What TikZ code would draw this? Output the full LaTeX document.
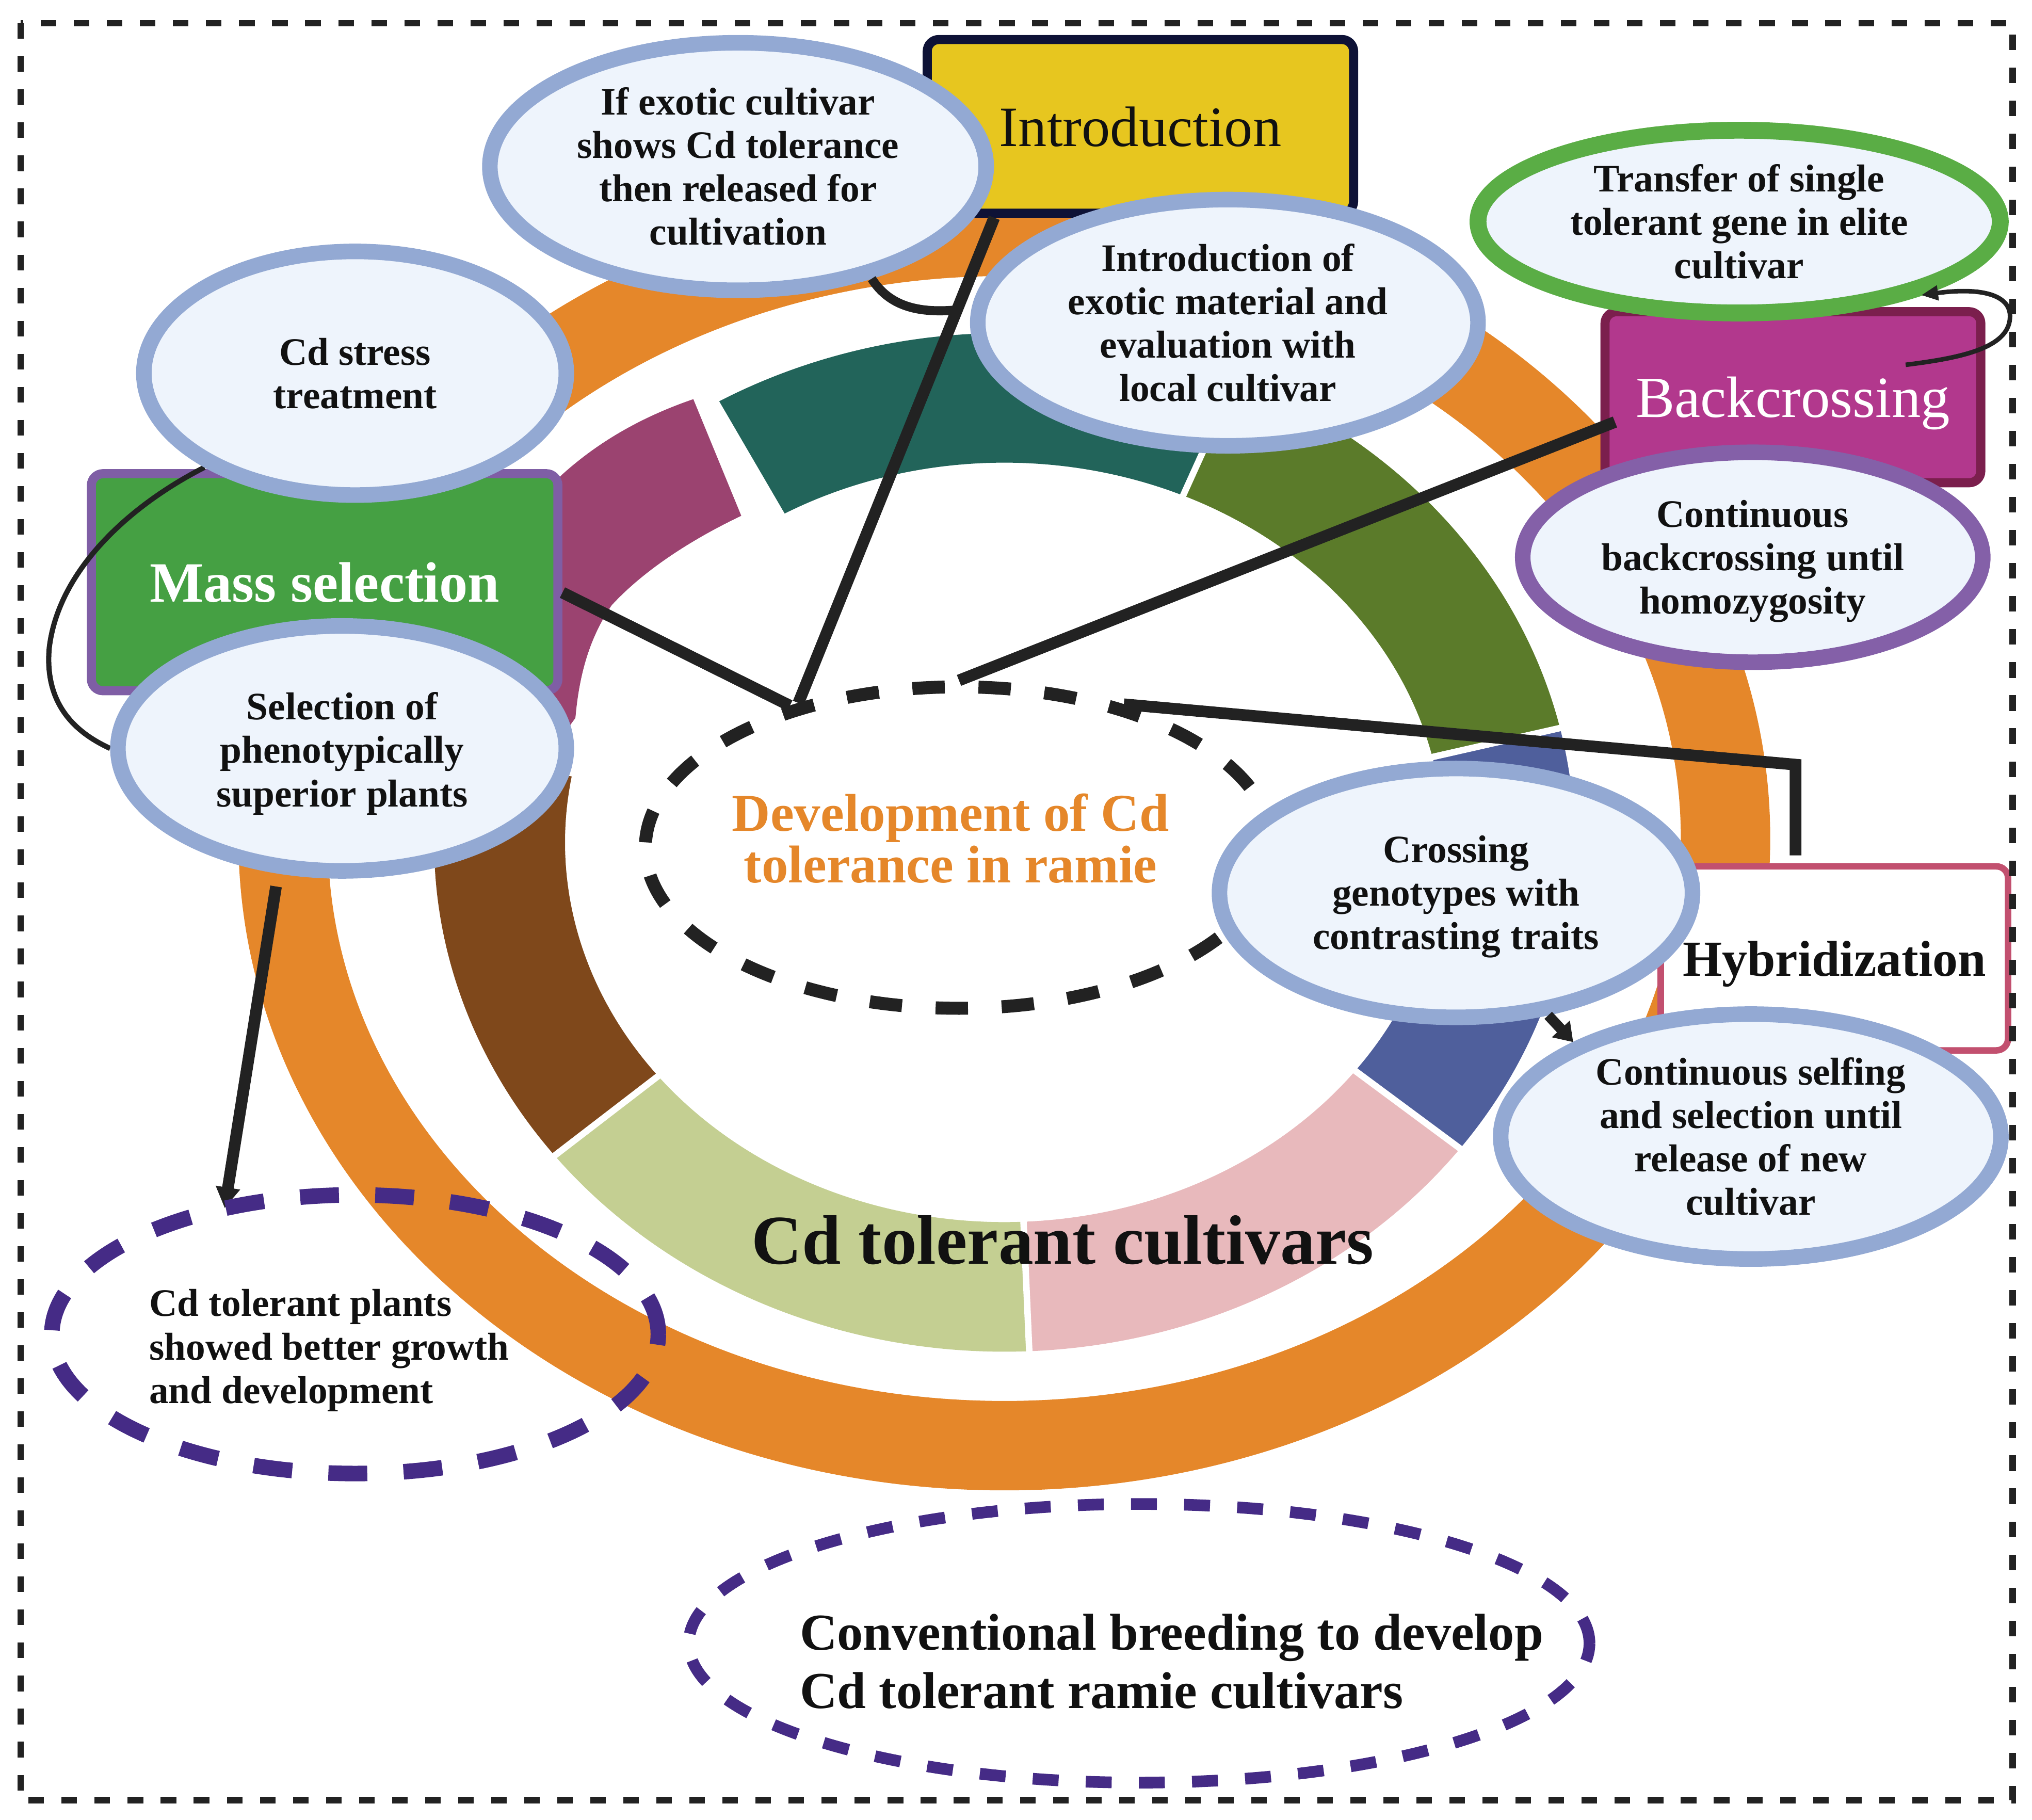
\documentclass[tikz,border=0pt]{standalone}
\usepackage{fontspec}
\setmainfont{Liberation Serif}
\usetikzlibrary{shapes.geometric,arrows.meta,calc}
\definecolor{ringO}{HTML}{E5872A}
\definecolor{segMaroon}{HTML}{9B4370}
\definecolor{segTeal}{HTML}{22645A}
\definecolor{segOlive}{HTML}{5B7B2A}
\definecolor{segBlue}{HTML}{4F5F9C}
\definecolor{segPink}{HTML}{E8B9BC}
\definecolor{segLGreen}{HTML}{C4CF92}
\definecolor{segBrown}{HTML}{7F481B}
\definecolor{bubB}{HTML}{93A9D3}
\definecolor{bubF}{HTML}{EEF4FC}
\definecolor{greenB}{HTML}{5AAD45}
\definecolor{purpleB}{HTML}{8460A8}
\definecolor{dpurple}{HTML}{452B86}
\definecolor{introF}{HTML}{E7C61F}
\definecolor{introB}{HTML}{0E1236}
\definecolor{backF}{HTML}{B2388D}
\definecolor{backB}{HTML}{7B1F4D}
\definecolor{massF}{HTML}{45A043}
\definecolor{massB}{HTML}{7F5EA5}
\definecolor{hybB}{HTML}{C2506F}
\definecolor{dark}{HTML}{222222}
\definecolor{txtK}{HTML}{111111}
\pgfdeclarelayer{bg}
\pgfdeclarelayer{lines}
\pgfdeclarelayer{front}
\pgfsetlayers{bg,lines,main,front}
\newcommand\ringseg[3]{\fill[#3] (#1:440 and 393) arc[start angle=#1, end angle=#2, x radius=440, y radius=393] -- (#2:339 and 293) arc[start angle=#2, end angle=#1, x radius=339, y radius=293] -- cycle;}
\newcommand\ringgap[2]{\draw[white, line width=#2] (#1:330 and 284) -- (#1:452 and 404);}
\begin{document}
\begin{tikzpicture}[x=1pt,y=-1pt,
  bubble/.style={ellipse, draw=bubB, fill=bubF, line width=12pt, inner sep=0pt},
  txt/.style={align=center, inner sep=0pt, text=txtK, font=\fontsize{30}{33.5}\selectfont\bfseries},
  boxs/.style={rectangle, rounded corners=9pt, line width=7pt, inner sep=0pt, text depth=0pt},
  conn/.style={draw=dark, line width=9pt},
  dashell/.style={ellipse, inner sep=0pt}]
\useasboundingbox (0,0) rectangle (1568,1404);

\begin{pgfonlayer}{bg}
  % orange ring
  \draw[ringO, line width=69pt] (775,647) ellipse [x radius=556.5, y radius=468.5];
  % maroon segment (wider arc on the upper left)
  \fill[segMaroon] (330,600) .. controls (345,480) and (395,405) .. (434,366) .. controls (465,338) and (500,320) .. (535,308) -- (572,398) .. controls (530,418) and (495,442) .. (472,467) .. controls (455,492) and (447,520) .. (444,554) -- (425,580) -- cycle;
  % other segments of the ring
  \begin{scope}[shift={(775,650)}]
    \ringseg{294}{347}{segOlive}
    \ringseg{347}{397}{segBlue}
    \ringseg{37}{87.5}{segPink}
    \ringseg{87.5}{142}{segLGreen}
    \ringseg{142}{190}{segBrown}
    \ringseg{240}{294}{segTeal}
    \ringgap{294}{5pt}
    \ringgap{347}{5pt}
    \ringgap{37}{5pt}
    \ringgap{87.5}{5pt}
    \ringgap{142}{5pt}
  \end{scope}
  \node[inner sep=0pt, text=txtK, font=\fontsize{54}{60}\selectfont\bfseries] (cult) at (820,957) {Cd tolerant cultivars};
  % boxes
  \node[boxs, draw=introB, fill=introF, minimum width=329pt, minimum height=134pt, text=txtK, font=\fontsize{44}{48}\selectfont] (intro) at (880,97.5) {Introduction};
  \node[boxs, draw=backB, fill=backF, minimum width=290pt, minimum height=132pt, text=white, font=\fontsize{45}{48}\selectfont] (back) at (1383.5,306.5) {Backcrossing};
  \node[boxs, draw=massB, fill=massF, minimum width=360pt, minimum height=167.5pt, text=white, font=\fontsize{44}{48}\selectfont\bfseries] (mass) at (250.5,449.25) {Mass selection};
  \node[boxs, draw=hybB, fill=white, line width=5pt, minimum width=268pt, minimum height=142pt, text=txtK, font=\fontsize{39}{44}\selectfont\bfseries] (hyb) at (1415.5,739.5) {Hybridization};
\end{pgfonlayer}

% central dashed ellipse
\node[dashell, draw=dark, line width=10pt, dash pattern=on 25pt off 26pt, minimum width=484pt, minimum height=248pt] (dev) at (740,654) {};
\node[align=center, inner sep=0pt, text=ringO, font=\fontsize{41}{40}\selectfont\bfseries] (devt) at (733.5,647) {Development of Cd\\tolerance in ramie};

% bubbles
\node[bubble, minimum width=383pt, minimum height=191pt] (exotic) at (569.5,128.5) {};
\node[txt] (exotict) at (exotic) {If exotic cultivar\\shows Cd tolerance\\then released for\\cultivation};
\node[bubble, minimum width=386pt, minimum height=190pt] (introof) at (947.5,249) {};
\node[txt] (introoft) at (introof) {Introduction of\\exotic material and\\evaluation with\\local cultivar};
\node[bubble, minimum width=326pt, minimum height=188pt] (stress) at (274,288) {};
\node[txt] (stresst) at (stress) {Cd stress\\treatment};
\node[bubble, minimum width=346pt, minimum height=189pt] (sel) at (264,577.5) {};
\node[txt] (selt) at ([yshift=-4pt]sel.center) {Selection of\\phenotypically\\superior plants};
\node[bubble, draw=greenB, line width=13pt, minimum width=403pt, minimum height=141pt] (trans) at (1342,171) {};
\node[txt] (transt) at (trans) {Transfer of single\\tolerant gene in elite\\cultivar};
\node[bubble, draw=purpleB, minimum width=355pt, minimum height=162pt] (cont) at (1352.5,430) {};
\node[txt] (contt) at ([yshift=-3pt]cont.center) {Continuous\\backcrossing until\\homozygosity};
\node[bubble, minimum width=365pt, minimum height=192pt] (cross) at (1123.5,689) {};
\node[txt] (crosst) at ([yshift=-3pt]cross.center) {Crossing\\genotypes with\\contrasting traits};
\node[bubble, minimum width=386pt, minimum height=189pt] (self) at (1351,877) {};
\node[txt] (selft) at (self) {Continuous selfing\\and selection until\\release of new\\cultivar};

% dashed purple ellipses
\node[dashell, draw=dpurple, line width=12pt, dash pattern=on 30pt off 28pt, minimum width=468pt, minimum height=215pt] (tol) at (274,1029.5) {};
\node[txt, align=left, anchor=west] (tolt) at (115,1042) {Cd tolerant plants\\showed better growth\\and development};
\node[dashell, draw=dpurple, line width=9pt, dash pattern=on 20pt off 21pt, minimum width=695pt, minimum height=215pt] (conv) at (879,1268) {};
\node[align=left, anchor=west, inner sep=0pt, text=txtK, font=\fontsize{40}{45}\selectfont\bfseries] (convt) at (617,1282) {Conventional breeding to develop\\Cd tolerant ramie cultivars};

% connectors
\begin{pgfonlayer}{lines}
  \coordinate (hybk) at (1385.5,590);
  \draw[conn, line join=miter] ([xshift=-30pt,yshift=6pt]hyb.north) -- (hybk) -- (dev.41);
  \draw[conn] ([yshift=-8pt]mass.east) -- (dev.140);
  \draw[conn] (intro.212) -- (dev.138);
  \draw[conn, shorten <=-12pt] (back.189) -- (dev.north);
  \draw[conn, -{Triangle[length=16pt,width=18pt]}, shorten >=-6pt] ([xshift=-51pt,yshift=-6pt]sel.south) -- (tol.134);
  \draw[dark, line width=4pt] (stress.212) .. controls (100,390) and (45,440) .. (38,500) .. controls (34,545) and (60,566) .. (sel.west);
\end{pgfonlayer}

\begin{pgfonlayer}{front}
  \coordinate (ijoin) at ($(intro.212)!0.19!(dev.138)$);
  \draw[dark, line width=7pt] (exotic.-40) .. controls (686,236) and (708,242) .. (ijoin);
  \draw[dark, line width=8pt, -{Triangle[length=14pt,width=18pt]}] (cross.-53) -- (self.152);
  \draw[dark, line width=3.5pt, -{Triangle[length=13pt,width=11pt]}] ([xshift=87pt,yshift=25pt]back.center) .. controls (1515,276) and (1552,268) .. (1551,243) .. controls (1550,226) and (1525,222) .. (trans.-22);
  \draw[dark, line width=5pt, dash pattern=on 12pt off 13.5pt] (16,18) rectangle (1553,1389);
\end{pgfonlayer}
\end{tikzpicture}
\end{document}
